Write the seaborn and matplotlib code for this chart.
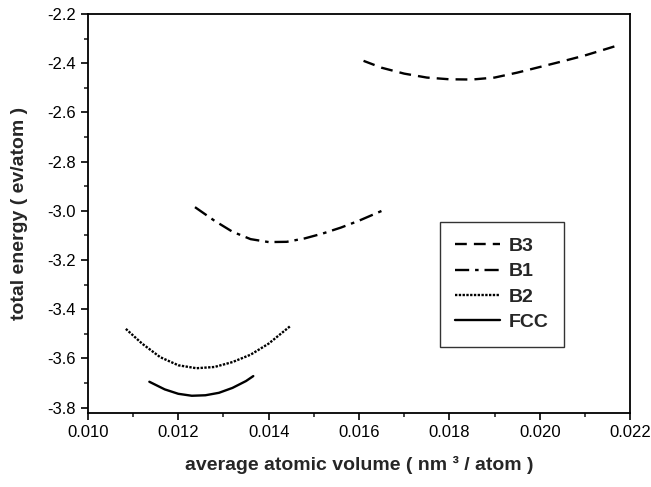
import pandas as pd
import matplotlib
matplotlib.use("Agg")
import matplotlib.pyplot as plt
import seaborn as sns
from matplotlib.ticker import MultipleLocator

# values
b3_vol = [0.0161, 0.0165, 0.0170, 0.0175, 0.0180, 0.0185, 0.0190, 0.0195, 0.0200, 0.0205, 0.0210, 0.0215, 0.0218]
b3_energy = [-2.390, -2.418, -2.442, -2.458, -2.465, -2.466, -2.458, -2.438, -2.415, -2.392, -2.368, -2.340, -2.323]

b1_vol = [0.01237, 0.0128, 0.0132, 0.0136, 0.0140, 0.0144, 0.0148, 0.0152, 0.0156, 0.0160, 0.01653]
b1_energy = [-2.985, -3.040, -3.085, -3.115, -3.127, -3.126, -3.112, -3.092, -3.068, -3.040, -2.998]

b2_vol = [0.01084, 0.0112, 0.0116, 0.0120, 0.0124, 0.0128, 0.0132, 0.0136, 0.0140, 0.01447]
b2_energy = [-3.480, -3.540, -3.595, -3.628, -3.640, -3.635, -3.615, -3.585, -3.540, -3.470]

fcc_vol = [0.01136, 0.0117, 0.0120, 0.0123, 0.0126, 0.0129, 0.0132, 0.0135, 0.01366]
fcc_energy = [-3.695, -3.726, -3.744, -3.752, -3.750, -3.740, -3.720, -3.692, -3.672]

series = [
    ("B3", b3_vol, b3_energy, (0, (5, 3))),
    ("B1", b1_vol, b1_energy, (0, (6, 2.5, 1.5, 2.5))),
    ("B2", b2_vol, b2_energy, (0, (1, 0.6))),
    ("FCC", fcc_vol, fcc_energy, "-"),
]


def build_frame():
    rows = []
    for name, vol, energy, _ in series:
        for v, e in zip(vol, energy):
            rows.append({"phase": name, "volume": v, "energy": e})
    return pd.DataFrame(rows)


def main():
    sns.set_style("ticks")
    plt.rcParams["font.family"] = ["Liberation Sans", "DejaVu Sans"]

    df = build_frame()

    fig = plt.figure(figsize=(6.51, 4.87), dpi=100)
    ax = fig.add_axes([0.135, 0.152, 0.833, 0.819])

    for name, _, _, ls in series:
        sub = df[df["phase"] == name]
        sns.lineplot(data=sub, x="volume", y="energy", ax=ax, color="black",
                     linewidth=1.7, linestyle=ls, sort=False, label=name)

    ax.set_xlim(0.010, 0.022)
    ax.set_ylim(-3.822, -2.2)
    ax.xaxis.set_major_locator(MultipleLocator(0.002))
    ax.xaxis.set_minor_locator(MultipleLocator(0.001))
    ax.yaxis.set_major_locator(MultipleLocator(0.2))
    ax.yaxis.set_minor_locator(MultipleLocator(0.1))
    ax.xaxis.set_major_formatter(plt.FuncFormatter(lambda v, p: f"{v:.3f}"))
    ax.yaxis.set_major_formatter(plt.FuncFormatter(lambda v, p: f"{v:.1f}"))
    ax.tick_params(which="major", direction="out", length=5, width=1.2, labelsize=12,
                   colors="black")
    ax.tick_params(which="minor", direction="out", length=3, width=1.2)

    for sp in ax.spines.values():
        sp.set_linewidth(1.3)
        sp.set_color("black")

    ax.set_xlabel("average atomic volume ( nm \u00b3 / atom )", fontsize=14,
                  fontweight="bold", labelpad=12)
    ax.set_ylabel("total energy ( ev/atom )", fontsize=14, fontweight="bold",
                  labelpad=14)

    leg = ax.legend(loc="upper left", bbox_to_anchor=(0.649, 0.479), frameon=True,
                    fancybox=False, edgecolor="black", handlelength=2.3,
                    prop={"weight": "bold", "size": 14}, labelspacing=0.4,
                    borderpad=0.8, handletextpad=0.45, borderaxespad=0)
    leg.get_frame().set_linewidth(1.0)

    fig.savefig("out.png", dpi=100)


if __name__ == "__main__":
    main()
